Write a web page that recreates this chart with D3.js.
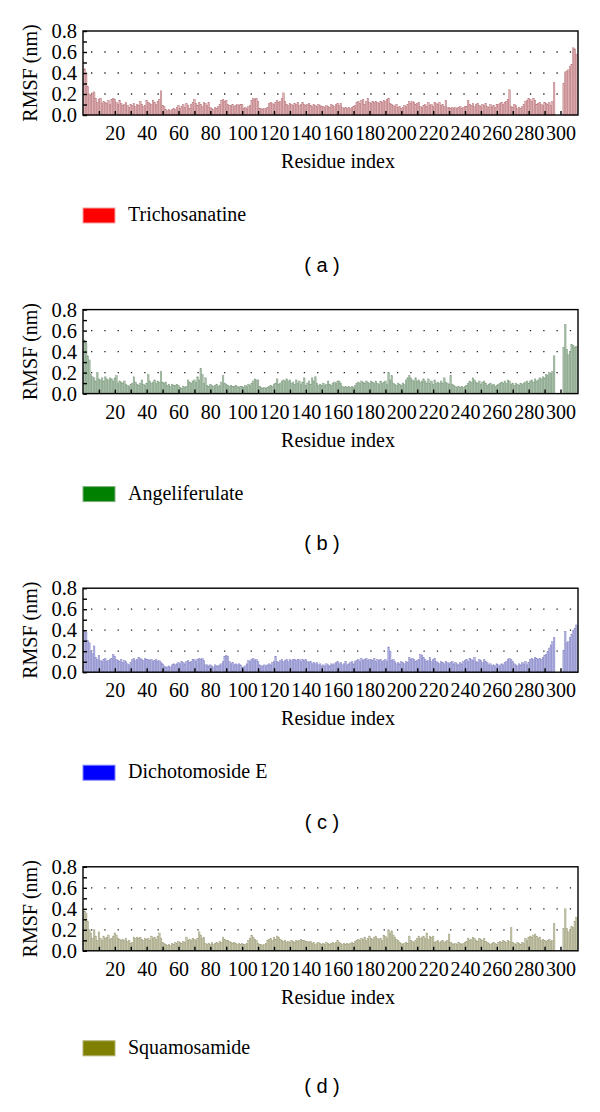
<!DOCTYPE html>
<html>
<head>
<meta charset="utf-8">
<script src="https://cdn.jsdelivr.net/npm/d3@7"></script>
<style>
  html, body { margin: 0; padding: 0; background: #fff; }
  svg { display: block; }
</style>
</head>
<body>
<div id="chart"></div>
<script>
// ---------------- DATA ----------------
const residues = d3.range(1, 311); // residue index 1..310
const xTickValues = d3.range(10, 310, 10);
const xTickLabels = d3.range(20, 301, 20);
const yTickValues = [0, 0.1, 0.2, 0.3, 0.4, 0.5, 0.6, 0.7, 0.8];
const yTickLabels = [0, 0.2, 0.4, 0.6, 0.8];
const yGridValues = [0.2, 0.4, 0.6];
const compoundNames = ["Trichosanatine", "Angeliferulate", "Dichotomoside E", "Squamosamide"];
const panelLabels = ["( a )", "( b )", "( c )", "( d )"];

// RMSF (nm) per residue
const rmsfA = [
0.44,0.40,0.27,0.20,0.19,0.21,0.22,0.16,0.12,0.15,
0.16,0.11,0.13,0.12,0.11,0.14,0.10,0.15,0.16,0.15,
0.12,0.10,0.14,0.11,0.09,0.10,0.12,0.09,0.07,0.10,
0.09,0.11,0.08,0.10,0.09,0.13,0.10,0.08,0.09,0.14,
0.12,0.11,0.10,0.14,0.12,0.10,0.13,0.15,0.23,0.09,
0.08,0.05,0.04,0.05,0.04,0.05,0.06,0.05,0.07,0.09,
0.06,0.08,0.10,0.07,0.11,0.09,0.06,0.10,0.12,0.15,
0.11,0.09,0.12,0.10,0.08,0.12,0.11,0.09,0.12,0.07,
0.06,0.05,0.07,0.06,0.08,0.10,0.14,0.15,0.13,0.14,
0.10,0.09,0.09,0.10,0.08,0.09,0.10,0.09,0.10,0.10,
0.06,0.07,0.06,0.08,0.09,0.14,0.16,0.15,0.16,0.13,
0.06,0.06,0.05,0.06,0.06,0.07,0.11,0.12,0.11,0.10,
0.12,0.14,0.12,0.13,0.16,0.21,0.13,0.10,0.09,0.11,
0.10,0.09,0.11,0.10,0.12,0.09,0.10,0.12,0.10,0.09,
0.10,0.11,0.09,0.08,0.10,0.09,0.08,0.10,0.09,0.08,
0.08,0.07,0.09,0.08,0.07,0.10,0.09,0.08,0.10,0.11,
0.09,0.11,0.07,0.06,0.07,0.06,0.07,0.06,0.07,0.08,
0.09,0.12,0.13,0.11,0.14,0.15,0.10,0.13,0.16,0.12,
0.11,0.13,0.12,0.13,0.12,0.11,0.13,0.12,0.14,0.13,
0.15,0.16,0.11,0.10,0.09,0.08,0.10,0.07,0.08,0.06,
0.07,0.09,0.08,0.10,0.13,0.11,0.13,0.12,0.10,0.11,
0.12,0.08,0.07,0.09,0.10,0.08,0.12,0.09,0.10,0.08,
0.12,0.11,0.10,0.12,0.09,0.10,0.08,0.14,0.07,0.07,
0.06,0.07,0.06,0.07,0.06,0.07,0.08,0.06,0.07,0.08,
0.08,0.14,0.10,0.09,0.11,0.08,0.10,0.11,0.09,0.08,
0.10,0.09,0.11,0.08,0.07,0.10,0.08,0.09,0.07,0.10,
0.10,0.11,0.12,0.10,0.12,0.13,0.15,0.24,0.08,0.07,
0.10,0.09,0.06,0.07,0.06,0.08,0.10,0.13,0.14,0.16,
0.15,0.13,0.16,0.14,0.10,0.11,0.12,0.10,0.09,0.12,
0.11,0.10,0.12,0.09,0.13,0.31,0,0,0,0,
0,0.30,0.41,0.42,0.43,0.46,0.48,0.64,0.63,0.58];

const rmsfB = [
0.51,0.48,0.36,0.32,0.18,0.16,0.15,0.12,0.20,0.14,
0.13,0.15,0.12,0.16,0.14,0.13,0.15,0.14,0.12,0.15,
0.17,0.10,0.12,0.11,0.10,0.12,0.09,0.08,0.07,0.09,
0.10,0.16,0.11,0.09,0.08,0.10,0.13,0.09,0.08,0.10,
0.18,0.12,0.10,0.11,0.13,0.10,0.12,0.11,0.21,0.11,
0.10,0.11,0.08,0.09,0.07,0.09,0.08,0.08,0.09,0.08,
0.06,0.05,0.07,0.06,0.07,0.13,0.11,0.10,0.12,0.13,
0.11,0.16,0.13,0.24,0.18,0.10,0.15,0.08,0.07,0.09,
0.08,0.07,0.08,0.09,0.07,0.08,0.11,0.17,0.10,0.09,
0.08,0.07,0.08,0.07,0.07,0.08,0.07,0.06,0.07,0.07,
0.06,0.08,0.07,0.09,0.08,0.10,0.12,0.14,0.13,0.13,
0.07,0.06,0.05,0.06,0.05,0.06,0.07,0.08,0.07,0.09,
0.10,0.14,0.09,0.10,0.12,0.13,0.12,0.14,0.12,0.13,
0.10,0.11,0.09,0.13,0.10,0.12,0.09,0.11,0.15,0.08,
0.10,0.12,0.09,0.15,0.12,0.16,0.10,0.08,0.09,0.08,
0.10,0.08,0.09,0.12,0.09,0.08,0.10,0.11,0.10,0.12,
0.12,0.10,0.07,0.06,0.07,0.06,0.07,0.06,0.07,0.06,
0.08,0.10,0.11,0.10,0.12,0.11,0.10,0.12,0.11,0.10,
0.12,0.11,0.10,0.12,0.10,0.09,0.12,0.10,0.11,0.12,
0.09,0.20,0.13,0.17,0.10,0.09,0.08,0.10,0.09,0.08,
0.10,0.09,0.13,0.15,0.17,0.15,0.13,0.12,0.15,0.12,
0.13,0.11,0.12,0.14,0.12,0.10,0.14,0.10,0.12,0.09,
0.13,0.10,0.11,0.10,0.12,0.10,0.15,0.11,0.10,0.09,
0.17,0.09,0.08,0.07,0.06,0.07,0.06,0.07,0.06,0.07,
0.08,0.10,0.12,0.11,0.15,0.13,0.11,0.10,0.12,0.09,
0.11,0.12,0.10,0.08,0.09,0.10,0.08,0.09,0.07,0.08,
0.09,0.10,0.11,0.10,0.12,0.10,0.13,0.12,0.09,0.10,
0.08,0.10,0.09,0.08,0.10,0.09,0.10,0.11,0.12,0.10,
0.12,0.13,0.11,0.14,0.12,0.13,0.15,0.14,0.16,0.15,
0.18,0.17,0.20,0.19,0.21,0.36,0,0,0,0,
0,0.44,0.66,0.42,0.37,0.40,0.47,0.46,0.44,0.45];

const rmsfC = [
0.40,0.38,0.30,0.28,0.20,0.18,0.25,0.14,0.12,0.16,
0.11,0.10,0.12,0.13,0.10,0.11,0.12,0.13,0.17,0.15,
0.12,0.11,0.10,0.12,0.09,0.11,0.10,0.08,0.07,0.09,
0.12,0.13,0.11,0.12,0.14,0.13,0.12,0.11,0.13,0.12,
0.12,0.11,0.12,0.10,0.11,0.12,0.10,0.11,0.09,0.08,
0.06,0.05,0.05,0.06,0.05,0.07,0.08,0.07,0.08,0.09,
0.08,0.10,0.09,0.08,0.10,0.11,0.09,0.10,0.12,0.12,
0.10,0.12,0.13,0.12,0.13,0.11,0.07,0.07,0.06,0.07,
0.06,0.05,0.07,0.06,0.06,0.07,0.08,0.10,0.15,0.16,
0.15,0.10,0.08,0.09,0.07,0.08,0.07,0.08,0.07,0.05,
0.05,0.06,0.08,0.11,0.10,0.12,0.13,0.11,0.12,0.10,
0.07,0.06,0.06,0.07,0.06,0.07,0.08,0.07,0.09,0.10,
0.15,0.10,0.09,0.11,0.12,0.10,0.11,0.12,0.10,0.12,
0.11,0.12,0.12,0.11,0.12,0.12,0.10,0.12,0.11,0.12,
0.10,0.09,0.10,0.08,0.09,0.08,0.09,0.07,0.08,0.06,
0.07,0.06,0.08,0.07,0.06,0.08,0.07,0.08,0.09,0.10,
0.08,0.09,0.07,0.08,0.10,0.07,0.08,0.09,0.10,0.08,
0.10,0.11,0.12,0.10,0.13,0.11,0.12,0.13,0.11,0.12,
0.12,0.11,0.13,0.10,0.12,0.11,0.12,0.10,0.11,0.12,
0.10,0.24,0.20,0.11,0.12,0.10,0.08,0.09,0.08,0.10,
0.09,0.08,0.10,0.09,0.14,0.12,0.13,0.12,0.10,0.11,
0.12,0.17,0.16,0.14,0.12,0.10,0.11,0.14,0.10,0.12,
0.13,0.10,0.09,0.08,0.10,0.09,0.08,0.10,0.09,0.08,
0.09,0.10,0.08,0.09,0.08,0.07,0.09,0.08,0.10,0.11,
0.12,0.10,0.13,0.12,0.11,0.14,0.10,0.09,0.12,0.11,
0.09,0.12,0.10,0.09,0.07,0.08,0.06,0.07,0.06,0.08,
0.07,0.06,0.08,0.07,0.09,0.10,0.12,0.13,0.12,0.10,
0.08,0.07,0.06,0.08,0.07,0.09,0.08,0.10,0.07,0.09,
0.12,0.13,0.12,0.14,0.13,0.12,0.13,0.12,0.14,0.16,
0.17,0.20,0.23,0.26,0.29,0.33,0,0,0,0,
0,0.21,0.39,0.28,0.29,0.33,0.36,0.40,0.42,0.45];

const rmsfD = [
0.38,0.36,0.28,0.20,0.17,0.12,0.20,0.14,0.10,0.18,
0.12,0.10,0.14,0.12,0.13,0.15,0.11,0.12,0.14,0.17,
0.15,0.12,0.11,0.10,0.11,0.10,0.12,0.09,0.10,0.07,
0.08,0.13,0.12,0.13,0.12,0.13,0.11,0.10,0.12,0.11,
0.12,0.10,0.14,0.12,0.13,0.11,0.14,0.17,0.12,0.08,
0.07,0.06,0.05,0.06,0.05,0.07,0.06,0.08,0.07,0.09,
0.08,0.07,0.09,0.08,0.13,0.10,0.11,0.10,0.12,0.11,
0.10,0.12,0.18,0.15,0.12,0.13,0.07,0.06,0.07,0.06,
0.08,0.06,0.07,0.08,0.07,0.09,0.08,0.13,0.11,0.10,
0.10,0.09,0.08,0.07,0.08,0.07,0.06,0.07,0.06,0.07,
0.06,0.06,0.07,0.10,0.12,0.15,0.13,0.11,0.10,0.07,
0.06,0.06,0.05,0.06,0.07,0.10,0.11,0.12,0.10,0.13,
0.11,0.14,0.13,0.11,0.10,0.09,0.10,0.08,0.09,0.08,
0.10,0.09,0.08,0.10,0.09,0.10,0.11,0.10,0.10,0.09,
0.09,0.08,0.09,0.07,0.08,0.06,0.07,0.08,0.07,0.06,
0.07,0.06,0.08,0.07,0.06,0.07,0.08,0.07,0.08,0.10,
0.08,0.07,0.06,0.07,0.06,0.07,0.06,0.07,0.08,0.07,
0.09,0.10,0.11,0.10,0.12,0.11,0.13,0.10,0.12,0.14,
0.12,0.11,0.13,0.14,0.12,0.11,0.12,0.10,0.15,0.14,
0.12,0.20,0.17,0.19,0.15,0.13,0.11,0.10,0.08,0.07,
0.06,0.07,0.08,0.07,0.14,0.10,0.09,0.08,0.10,0.12,
0.14,0.12,0.13,0.14,0.12,0.17,0.11,0.14,0.13,0.14,
0.08,0.09,0.10,0.08,0.09,0.10,0.08,0.09,0.10,0.16,
0.08,0.07,0.06,0.07,0.06,0.08,0.07,0.06,0.07,0.08,
0.09,0.12,0.10,0.11,0.13,0.12,0.10,0.09,0.12,0.11,
0.10,0.12,0.09,0.08,0.07,0.06,0.07,0.08,0.07,0.06,
0.08,0.09,0.08,0.10,0.09,0.08,0.10,0.09,0.22,0.08,
0.07,0.06,0.08,0.07,0.06,0.08,0.07,0.12,0.10,0.13,
0.14,0.13,0.15,0.16,0.14,0.12,0.13,0.10,0.11,0.10,
0.09,0.10,0.11,0.09,0.10,0.26,0,0,0,0,
0,0.21,0.40,0.21,0.18,0.20,0.23,0.22,0.28,0.32];

const seriesValues = [rmsfA, rmsfB, rmsfC, rmsfD];
const barFills   = ["#ddb1b4", "#a9bfa9", "#b3b3e0", "#c6c6ac"];
const barStrokes = ["#b8737a", "#7e9c80", "#8383c6", "#9d9d7c"];
const legendColors = ["#ff0000", "#008000", "#0000ff", "#808000"];
const legendStrokes = ["#f3a0a0", "#80b080", "#8080ff", "#b0b070"];

// ---------------- LAYOUT ----------------
const W = 600, H = 1112;
const panelStep = 278.6;
const frameL = 83, frameR = 578, frameT = 31, frameB = 115;
const legendShift = [0, 0, 0, -3];
const labelShift = [0, 0, 0, -14];
const serif = "'Liberation Serif','Times New Roman',Times,serif";
const sans = "'Liberation Sans',Arial,Helvetica,sans-serif";

const svg = d3.select("#chart").append("svg")
  .attr("width", W).attr("height", H)
  .attr("viewBox", `0 0 ${W} ${H}`);

const x = d3.scaleLinear().domain([0, 311]).range([frameL, frameR]);
const y = d3.scaleLinear().domain([0, 0.8]).range([frameB, frameT]);
const bw = x(1) - x(0);

seriesValues.forEach((vals, p) => {
  const g = svg.append("g").attr("transform", `translate(0,${p * panelStep})`);

  // dotted gridlines
  g.selectAll("line.grid").data(yGridValues).join("line")
    .attr("class", "grid")
    .attr("x1", frameL + 8).attr("x2", frameR)
    .attr("y1", d => y(d)).attr("y2", d => y(d))
    .attr("stroke", "#222").attr("stroke-width", 1.3)
    .attr("stroke-dasharray", "1.3,12");

  // bars
  const data = residues.map((r, i) => ({ r, v: vals[i] })).filter(d => d.v > 0);
  g.selectAll("rect.bar").data(data).join("rect")
    .attr("class", "bar")
    .attr("x", d => x(d.r - 0.5))
    .attr("width", bw)
    .attr("y", d => y(d.v))
    .attr("height", d => y(0) - y(d.v))
    .attr("fill", barFills[p])
    .attr("stroke", barStrokes[p])
    .attr("stroke-width", 0.45);

  // x axis (ticks inside)
  const xAxis = d3.axisBottom(x)
    .tickValues(xTickValues)
    .tickSize(-4)
    .tickPadding(11)
    .tickFormat(d => xTickLabels.includes(d) ? d3.format("d")(d) : "");
  const gx = g.append("g").attr("transform", `translate(0,${frameB})`).call(xAxis);
  gx.select(".domain").remove();
  gx.selectAll(".tick line").attr("stroke", "#000").attr("stroke-width", 1.4);
  gx.selectAll(".tick text").filter(d => !xTickLabels.includes(d)).remove();
  gx.selectAll(".tick text").attr("font-family", serif).attr("font-size", 20).attr("fill", "#000");

  // y axis (ticks inside)
  const yAxis = d3.axisLeft(y)
    .tickValues(yTickValues)
    .tickSize(-4)
    .tickPadding(6)
    .tickFormat(d => (Math.round(d * 10) % 2 === 0) ? d3.format(".1f")(d) : "");
  const gy = g.append("g").attr("transform", `translate(${frameL},0)`).call(yAxis);
  gy.select(".domain").remove();
  gy.selectAll(".tick line").attr("stroke", "#000").attr("stroke-width", 1.4);
  gy.selectAll(".tick text").filter(d => Math.round(d * 10) % 2 !== 0).remove();
  gy.selectAll(".tick text").attr("font-family", serif).attr("font-size", 20.5).attr("fill", "#000");

  // frame
  g.append("rect")
    .attr("x", frameL).attr("y", frameT)
    .attr("width", frameR - frameL).attr("height", frameB - frameT)
    .attr("fill", "none").attr("stroke", "#000").attr("stroke-width", 1.4);

  // axis titles
  g.append("text")
    .attr("x", 338).attr("y", 168)
    .attr("text-anchor", "middle")
    .attr("font-family", serif).attr("font-size", 20)
    .text("Residue index");
  g.append("text")
    .attr("transform", `translate(37,${(frameT + frameB) / 2}) rotate(-90)`)
    .attr("text-anchor", "middle")
    .attr("font-family", serif).attr("font-size", 20)
    .text("RMSF (nm)");

  // legend
  g.append("rect")
    .attr("x", 83).attr("y", 208 + legendShift[p]).attr("width", 32).attr("height", 15)
    .attr("fill", legendColors[p]).attr("stroke", legendStrokes[p]).attr("stroke-width", 1);
  g.append("text")
    .attr("x", 128).attr("y", 221 + legendShift[p])
    .attr("font-family", serif).attr("font-size", 20)
    .text(compoundNames[p]);

  // panel label
  g.append("text")
    .attr("x", 322).attr("y", 271.5 + labelShift[p])
    .attr("text-anchor", "middle")
    .attr("font-family", sans).attr("font-size", 20)
    .attr("xml:space", "preserve")
    .style("white-space", "pre")
    .text(panelLabels[p]);
});
</script>
</body>
</html>
